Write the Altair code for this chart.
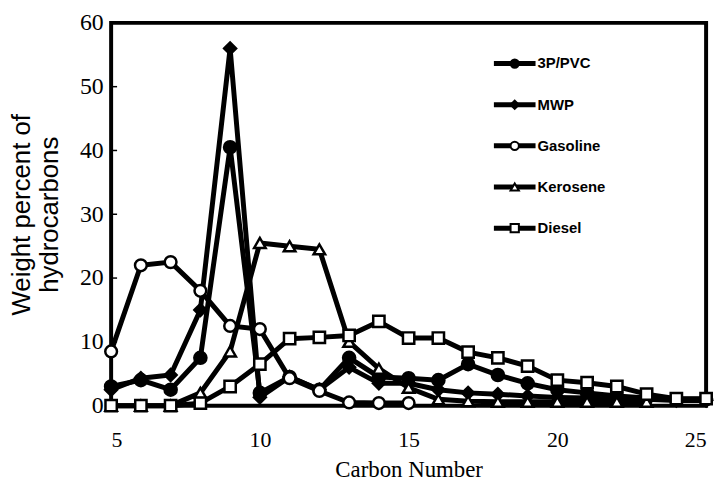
import altair as alt
import pandas as pd

names = ["3P/PVC", "MWP", "Gasoline", "Kerosene", "Diesel"]
carbon = list(range(5, 26))

pvc = [3.0, 4.0, 2.5, 7.5, 40.5, 2.0, 4.5, 2.5, 7.5, 4.5, 4.3, 4.0, 6.5, 4.8, 3.5,
       2.5, 2.0, 1.5, 1.2, 1.0, 1.0]
mwp = [2.5, 4.3, 4.8, 15.0, 56.0, 1.3, 4.5, 2.5, 6.0, 3.5, 3.5, 2.5, 2.0, 1.8, 1.5,
       1.3, 1.2, 1.0, 1.0, 0.8, 0.8]
gasoline = [8.5, 22.0, 22.5, 18.0, 12.5, 12.0, 4.3, 2.3, 0.5, 0.4, 0.4]
kerosene = [0.0, 0.0, 0.0, 2.0, 8.5, 25.5, 25.0, 24.5, 10.0, 5.8, 2.8, 1.0, 0.7,
            0.6, 0.6, 0.6, 0.6, 0.6, 0.6]
diesel = [0.0, 0.0, 0.0, 0.4, 3.0, 6.5, 10.5, 10.7, 11.0, 13.2, 10.6, 10.6, 8.4,
          7.5, 6.2, 4.0, 3.6, 3.0, 1.8, 1.1, 1.1]

x_ticks = [5, 10, 15, 20, 25]
y_ticks = [0, 10, 20, 30, 40, 50, 60]

rows = []
for name, vals in zip(names, [pvc, mwp, gasoline, kerosene, diesel]):
    for c, v in zip(carbon, vals):
        rows.append({"series": name, "carbon": c, "value": v})
df = pd.DataFrame(rows)
leg = pd.DataFrame({"series": names})
ticks_df = pd.DataFrame({"value": y_ticks[1:-1]})

shape_scale = alt.Scale(domain=names, range=["circle", "diamond", "circle", "triangle-up", "square"])
fill_scale = alt.Scale(domain=names, range=["black", "black", "white", "white", "white"])
width_scale = alt.Scale(domain=names, range=[5, 5, 2.5, 2.5, 2.5])

x = alt.X("carbon:Q",
          scale=alt.Scale(domain=[5, 25], nice=False, zero=False),
          axis=alt.Axis(values=x_ticks, title="Carbon Number", ticks=False, domain=False,
                        grid=False, labelFont="Liberation Serif", labelFontSize=22,
                        labelColor="black", labelPadding=24,
                        titleFont="Liberation Serif", titleFontSize=23,
                        titleFontWeight="normal", titleColor="black", titlePadding=8))
y = alt.Y("value:Q",
          scale=alt.Scale(domain=[0, 60], nice=False),
          axis=alt.Axis(values=y_ticks, title=["Weight percent of", "hydrocarbons"],
                        ticks=False, domain=False, grid=False,
                        labelFont="Liberation Serif", labelFontSize=24, labelColor="black",
                        labelPadding=8, titleFont="Liberation Sans", titleFontSize=26,
                        titleFontWeight="normal", titleColor="black", titleLineHeight=28,
                        titlePadding=17))

base = alt.Chart(df)
lines = base.mark_line(color="black").encode(
    x=x, y=y, detail="series:N",
    strokeWidth=alt.StrokeWidth("series:N", scale=width_scale, legend=None))
points = base.mark_point(filled=True, stroke="black", strokeWidth=2.5, opacity=1,
                         fillOpacity=1).encode(
    x=x, y=y,
    shape=alt.Shape("series:N", scale=shape_scale, legend=None),
    fill=alt.Fill("series:N", scale=fill_scale, legend=None),
    size=alt.Size("series:N", scale=alt.Scale(domain=names, range=[150, 130, 220, 120, 110]),
                  legend=None))
inner_ticks = alt.Chart(ticks_df).mark_rule(color="black", strokeWidth=1.5).encode(
    x=alt.value(0), x2=alt.value(6), y=y)
data_layer = alt.layer(inner_ticks, lines, points)

ly = alt.Y("series:N", scale=alt.Scale(type="point", domain=names, range=[41, 207], padding=0),
           axis=None)
lbase = alt.Chart(leg)
leg_rule = lbase.mark_rule(color="black").encode(
    x=alt.value(386), x2=alt.value(428), y=ly,
    strokeWidth=alt.StrokeWidth("series:N", scale=width_scale, legend=None))
leg_pt = lbase.mark_point(filled=True, stroke="black", strokeWidth=2, opacity=1,
                          fillOpacity=1).encode(
    x=alt.value(407), y=ly,
    shape=alt.Shape("series:N", scale=shape_scale, legend=None),
    fill=alt.Fill("series:N", scale=fill_scale, legend=None),
    size=alt.Size("series:N", scale=alt.Scale(domain=names, range=[70, 70, 110, 80, 70]),
                  legend=None))
leg_txt = lbase.mark_text(align="left", baseline="middle", font="Liberation Sans",
                          fontWeight="bold", fontSize=15, color="black").encode(
    x=alt.value(430), y=ly, text="series:N")
legend_layer = alt.layer(leg_rule, leg_pt, leg_txt)

chart = alt.layer(data_layer, legend_layer).resolve_scale(
    y="independent", size="independent"
).properties(
    width=600, height=386,
    padding={"left": 1, "top": 1, "right": 0, "bottom": 0},
    background="white",
).configure_view(stroke="black", strokeWidth=4)

chart.save("out.html", embed_options={"renderer": "svg", "actions": False})
